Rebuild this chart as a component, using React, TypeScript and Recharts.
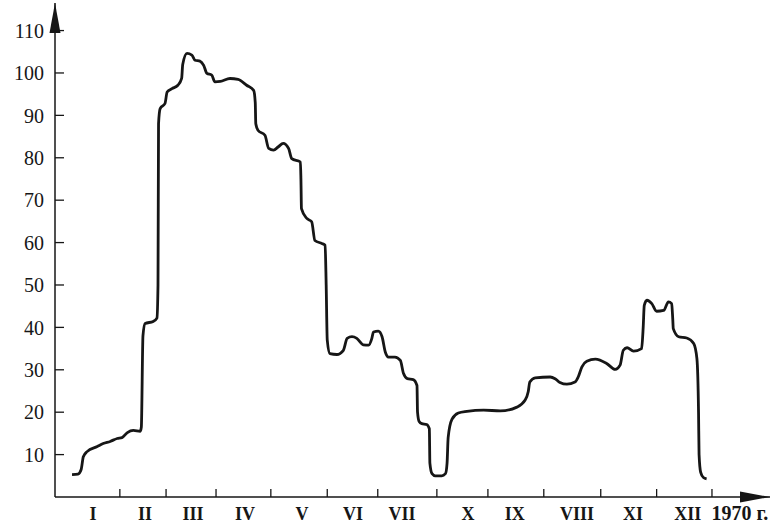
import React from 'react';
import { LineChart, Line, XAxis, YAxis } from 'recharts';

// month ticks as printed on the original scan (order kept as is)
const monthLabels = ['I', 'II', 'III', 'IV', 'V', 'VI', 'VII', 'X', 'IX', 'VIII', 'XI', 'XII'];
const monthCentres = [0.5, 1.47, 2.36, 3.33, 4.39, 5.34, 6.25, 7.48, 8.35, 9.51, 10.55, 11.57];
const monthBounds = [1.0, 1.86, 2.79, 3.81, 4.86, 5.8, 6.9, 7.85, 8.89, 9.95, 10.99, 12.02];
const yearLabel = '1970 г.';
const yearPos = 12.54;
const yTicks = [10, 20, 30, 40, 50, 60, 70, 80, 90, 100, 110];

// curve: position in months, value
const positions = [
  0.11, 0.22, 0.28, 0.32, 0.39, 0.58, 0.69, 0.82, 0.95, 1.04, 1.14, 1.25, 1.38, 1.4, 1.43, 1.47,
  1.62, 1.69, 1.71, 1.72, 1.75, 1.84, 1.88, 1.97, 2.08, 2.15, 2.17, 2.25, 2.34, 2.4, 2.49, 2.56,
  2.62, 2.71, 2.77, 2.87, 3.05, 3.2, 3.36, 3.49, 3.52, 3.53, 3.57, 3.7, 3.77, 3.86, 3.95, 4.04,
  4.14, 4.2, 4.36, 4.37, 4.38, 4.48, 4.57, 4.63, 4.76, 4.82, 4.84, 4.86, 4.91, 5.04, 5.16, 5.23,
  5.32, 5.41, 5.53, 5.63, 5.69, 5.72, 5.81, 5.88, 5.94, 6.0, 6.12, 6.22, 6.28, 6.35, 6.46, 6.53,
  6.54, 6.57, 6.62, 6.71, 6.76, 6.77, 6.81, 6.87, 6.99, 7.06, 7.09, 7.11, 7.18, 7.3, 7.46, 7.77,
  8.08, 8.39, 8.54, 8.6, 8.63, 8.73, 9.01, 9.1, 9.19, 9.32, 9.47, 9.53, 9.6, 9.69, 9.85, 10.06,
  10.22, 10.31, 10.37, 10.44, 10.56, 10.71, 10.74, 10.76, 10.81, 10.9, 10.99, 11.12, 11.21, 11.27,
  11.29, 11.3, 11.4, 11.55, 11.68, 11.74, 11.77, 11.78, 11.81, 11.86, 11.92,
];
const values = [
  5.3, 5.4, 6.5, 9.5, 10.7, 11.9, 12.6, 13.1, 13.8, 14.0, 15.2, 15.7, 15.5, 16.5, 38, 40.9,
  41.4, 42.2, 50, 88, 91.6, 92.8, 95.5, 96.3, 97.1, 98.7, 102, 104.6, 104.2, 103, 102.8, 101.8,
  99.9, 99.5, 97.9, 98.0, 98.7, 98.5, 97.1, 95.9, 93, 88, 86.5, 85.3, 82.2, 81.8, 82.6, 83.4,
  82.2, 79.8, 79.0, 75, 68, 65.7, 64.9, 60.5, 59.8, 59.4, 50, 37, 33.8, 33.6, 34.6, 37.4,
  37.8, 37.4, 35.9, 35.8, 37.4, 38.9, 39.1, 37.8, 34.2, 33.0, 33.0, 32.2, 29.1, 27.9, 27.7, 26.3,
  20, 17.8, 17.3, 17.1, 16.1, 8, 5.5, 5.0, 5.0, 5.5, 8, 14, 18.3, 19.8, 20.2, 20.5,
  20.3, 21.2, 22.8, 24.8, 27.1, 28.1, 28.3, 27.9, 27.0, 26.6, 27.1, 28.3, 30.7, 32.0, 32.5, 31.5,
  30.1, 31.1, 34.6, 35.2, 34.4, 35.0, 40, 45.2, 46.4, 45.6, 43.8, 44.0, 46.0, 45.6,
  42, 39.7, 37.8, 37.5, 36.2, 32.6, 20, 10, 5.8, 4.6, 4.3,
];

const data = positions.map((pos, i) => ({ pos, val: values[i] }));
const xTicks = [...monthBounds, ...monthCentres, yearPos];

const font = '"Liberation Serif", "DejaVu Serif", serif';
const ink = '#161616';

const XTick = (props: any) => {
  const { x, y, payload } = props;
  const v = payload.value;
  if (monthBounds.indexOf(v) >= 0) {
    return <line x1={x} x2={x} y1={y} y2={y - 8} stroke={ink} strokeWidth={1.3} />;
  }
  const j = monthCentres.indexOf(v);
  const isYear = j < 0;
  return (
    <text
      x={x}
      y={y + 23}
      textAnchor="middle"
      fontFamily={font}
      fontSize={isYear ? 20 : 18}
      fontWeight="bold"
      fill={ink}
    >
      {isYear ? yearLabel : monthLabels[j]}
    </text>
  );
};

const YTick = (props: any) => {
  const { x, y, payload } = props;
  return (
    <g>
      <line x1={x} x2={x + 9} y1={y} y2={y} stroke={ink} strokeWidth={1.3} />
      <text x={x - 11} y={y} dy="0.36em" textAnchor="end" fontFamily={font} fontSize={20} fill={ink}>
        {payload.value}
      </text>
    </g>
  );
};

const App: React.FC = () => {
  return (
    <div style={{ position: 'absolute', left: 0, top: 0, width: 782, height: 528, background: '#fff' }}>
      <LineChart width={782} height={528} data={data} margin={{ top: 3, right: 12, bottom: 0, left: 0 }}>
        <defs>
          <marker
            id="arrow"
            markerUnits="userSpaceOnUse"
            markerWidth={30}
            markerHeight={12}
            viewBox="0 0 30 12"
            refX={30}
            refY={6}
            orient="auto-start-reverse"
          >
            <path d="M0,0.5 L30,6 L0,11.5 Z" fill={ink} />
          </marker>
        </defs>
        <XAxis
          type="number"
          dataKey="pos"
          domain={[-0.207, 13.1]}
          allowDataOverflow
          ticks={xTicks}
          interval={0}
          height={31}
          tickSize={0}
          tickMargin={0}
          tickLine={false}
          tick={<XTick />}
          axisLine={{ stroke: ink, strokeWidth: 1.5, markerEnd: 'url(#arrow)' }}
        />
        <YAxis
          type="number"
          domain={[0, 116.5]}
          allowDataOverflow
          ticks={yTicks}
          interval={0}
          width={55}
          tickSize={0}
          tickMargin={0}
          tickLine={false}
          tick={<YTick />}
          axisLine={{ stroke: ink, strokeWidth: 1.5, markerStart: 'url(#arrow)' }}
        />
        <Line
          type="monotone"
          dataKey="val"
          stroke={ink}
          strokeWidth={2.8}
          dot={false}
          activeDot={false}
          isAnimationActive={false}
        />
      </LineChart>
    </div>
  );
};

export default App;
